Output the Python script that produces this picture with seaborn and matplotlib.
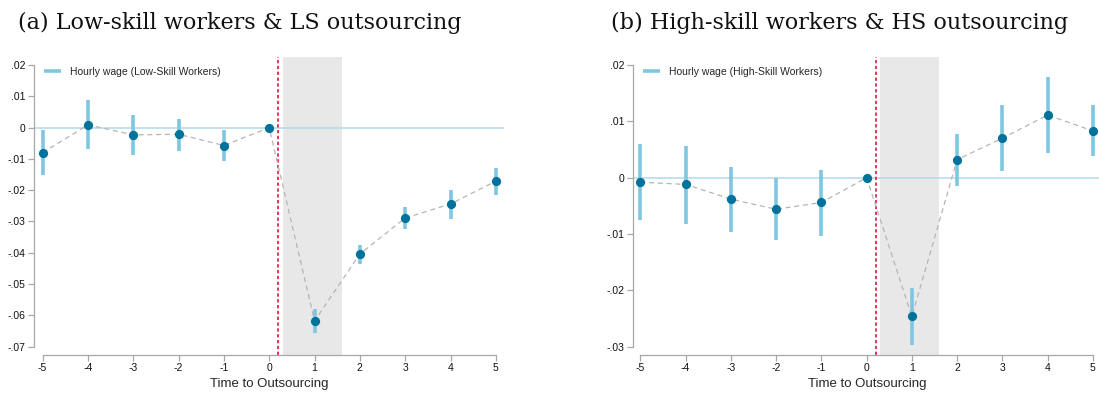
import numpy as np
import pandas as pd
import matplotlib
matplotlib.use("Agg")
import matplotlib.pyplot as plt
import seaborn as sns

# ---- data ----
periods = [-5, -4, -3, -2, -1, 0, 1, 2, 3, 4, 5]

ls_coef = [-0.0080, 0.0009, -0.0023, -0.0021, -0.0057, 0.0, -0.0618, -0.0404, -0.0289, -0.0244, -0.0171]
ls_lo   = [-0.0152, -0.0068, -0.0088, -0.0074, -0.0106, 0.0, -0.0656, -0.0437, -0.0324, -0.0291, -0.0214]
ls_hi   = [-0.0009, 0.0087, 0.0041, 0.0028, -0.0008, 0.0, -0.0579, -0.0375, -0.0255, -0.0198, -0.0129]

hs_coef = [-0.0008, -0.0012, -0.0038, -0.0056, -0.0044, 0.0, -0.0246, 0.0032, 0.0070, 0.0111, 0.0083]
hs_lo   = [-0.0075, -0.0082, -0.0096, -0.0111, -0.0104, 0.0, -0.0297, -0.0014, 0.0011, 0.0043, 0.0038]
hs_hi   = [0.0059, 0.0057, 0.0019, 0.0000, 0.0014, 0.0, -0.0196, 0.0078, 0.0129, 0.0179, 0.0128]

titles = ["(a) Low-skill workers & LS outsourcing", "(b) High-skill workers & HS outsourcing"]
legend_labels = ["Hourly wage (Low-Skill Workers)", "Hourly wage (High-Skill Workers)"]
xlabel = "Time to Outsourcing"
ls_yticks = [0.02, 0.01, 0.0, -0.01, -0.02, -0.03, -0.04, -0.05, -0.06, -0.07]
hs_yticks = [0.02, 0.01, 0.0, -0.01, -0.02, -0.03]
shade_span = (0.3, 1.6)
event_line = 0.2

sns.set_theme(style="white")
plt.rcParams['font.family'] = ['Liberation Sans', 'DejaVu Sans']

CI_COLOR = "#7fc6e0"
PT_COLOR = "#00729b"
ZERO_COLOR = "#b9dcea"
SPINE = "#a8a8a8"

def fmt(v):
    if abs(v) < 1e-12:
        return "0"
    s = f"{v:.2f}"
    return s.replace("0.", ".")

fig = plt.figure(figsize=(10.99, 3.94), dpi=100)
W, H = 1099, 394

def make_ax(x0, x1):
    return fig.add_axes([x0 / W, 39 / H, (x1 - x0) / W, (355 - 56.7) / H])

axes = [make_ax(34, 504), make_ax(632.7, 1101)]
ylims = [(-0.0727, 0.0227), (-0.03144, 0.02145)]
xlims = [(-5.19, 5.18), (-5.17, 5.18)]
datasets = [(ls_coef, ls_lo, ls_hi, ls_yticks), (hs_coef, hs_lo, hs_hi, hs_yticks)]

for i, ax in enumerate(axes):
    coef, lo, hi, yt = datasets[i]
    df = pd.DataFrame({"t": periods, "b": coef, "lo": lo, "hi": hi})
    ax.set_xlim(*xlims[i])
    ax.set_ylim(*ylims[i])
    ax.axvspan(shade_span[0], shade_span[1], color="#e8e8e8", lw=0, zorder=0)
    ax.axhline(0, color=ZERO_COLOR, lw=1.2, zorder=1)
    ax.axvline(event_line, color="#d7193c", lw=1.2, ls=(0, (2, 1.5)), zorder=2)
    ci = df[df["t"] != 0]
    ax.vlines(ci["t"], ci["lo"], ci["hi"], color=CI_COLOR, lw=2.6, zorder=3,
              label=legend_labels[i])
    sns.lineplot(data=df, x="t", y="b", ax=ax, color="#b5b5b5", lw=0.9,
                 ls=(0, (4, 3)), zorder=4, legend=False)
    sns.scatterplot(data=df, x="t", y="b", ax=ax, color=PT_COLOR, s=44,
                    edgecolor=PT_COLOR, linewidth=0, zorder=5, legend=False)
    ax.set_xticks(periods)
    ax.set_xticklabels([str(p) for p in periods], fontsize=7.5)
    ax.set_yticks(yt)
    ax.set_yticklabels([fmt(v) for v in yt], fontsize=7.5)
    ax.set_xlabel(xlabel, fontsize=9.5, labelpad=3)
    ax.set_ylabel("")
    for s in ["top", "right"]:
        ax.spines[s].set_visible(False)
    for s in ["left", "bottom"]:
        ax.spines[s].set_color(SPINE)
        ax.spines[s].set_linewidth(0.9)
    ax.spines["left"].set_bounds(min(yt), max(yt))
    ax.spines["bottom"].set_bounds(-5, 5)
    ax.tick_params(axis="both", length=4, width=0.9, color=SPINE, pad=2,
                   labelcolor="#111111", direction="out", left=True, bottom=True)
    leg = ax.legend(loc="upper left", frameon=False, fontsize=7.5,
                    handlelength=1.6, handletextpad=0.9,
                    bbox_to_anchor=(0.0, 1.0), borderaxespad=0.6)
    ax.patch.set_alpha(0)

for x0, t in zip([18, 611], titles):
    fig.text(x0 / W, 1 - 29 / H, t, family=["DejaVu Serif"],
             fontsize=16, ha="left", va="baseline", color="#111111")

fig.savefig("out.png", dpi=100)
